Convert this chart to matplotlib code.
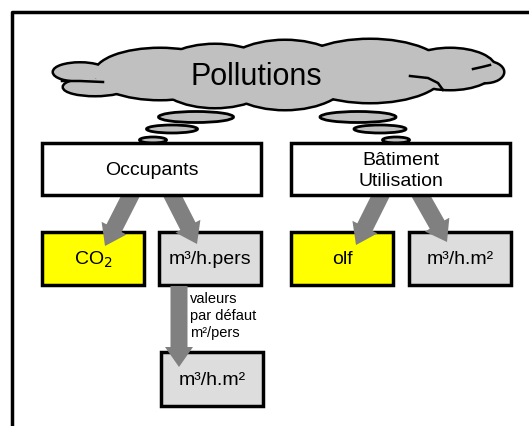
import matplotlib
matplotlib.use('Agg')
import matplotlib.pyplot as plt
from matplotlib.patches import Rectangle, Ellipse

plt.rcParams['font.family'] = ['Liberation Sans', 'DejaVu Sans']

# diagram content
title = 'Pollutions'
source_labels = ['Occupants', 'Bâtiment\nUtilisation']
source_x = [42, 291]
target_labels = ['CO$_2$', 'm³/h.pers', 'olf', 'm³/h.m²']
target_x = [42, 159, 291, 409]
target_colors = ['#ffff00', '#dddddd', '#ffff00', '#dddddd']
derived_label = 'm³/h.m²'
note = 'valeurs\npar défaut\nm²/pers'

gray_arrow = '#808080'
cloud_gray = '#c0c0c0'

fig = plt.figure(figsize=(5.29, 4.27), dpi=100)
ax = fig.add_axes([0, 0, 1, 1])
ax.set_xlim(0, 529)
ax.set_ylim(427, 0)
ax.axis('off')

# outer frame (runs off the right and bottom edges)
ax.plot([12, 12, 540], [440, 13, 13], color='black', lw=2.5, zorder=1)

# cloud: union of ellipses, outline drawn first then fill on top
lobes = [(80, 73, 52, 17), (95, 88, 62, 16), (160, 75, 130, 50),
         (215, 77, 120, 62), (285, 76, 130, 68), (370, 72, 150, 62),
         (450, 70, 90, 40), (485, 73, 36, 20)]
for cx, cy, w, h in lobes:
    ax.add_patch(Ellipse((cx, cy), w, h, facecolor='none', edgecolor='black', lw=3.6, zorder=2))
for cx, cy, w, h in lobes:
    ax.add_patch(Ellipse((cx, cy), w, h, facecolor=cloud_gray, edgecolor='none', zorder=3))
inner = [([62, 80, 103], [82, 82, 83]), ([473, 482, 490], [70, 68, 66]),
         ([410, 428, 438, 443], [77, 79, 84, 91])]
for xs, ys in inner:
    ax.plot(xs, ys, color='black', lw=1.8, zorder=4)
ax.text(256, 77, title, fontsize=22, ha='center', va='center', zorder=5)

# thought bubbles
bubbles = [(196, 118, 75, 11), (172, 130, 51, 8), (153, 141, 27, 6),
           (358, 118, 76, 11), (380, 130, 52, 8), (396, 141, 27, 6)]
for cx, cy, w, h in bubbles:
    ax.add_patch(Ellipse((cx, cy), w, h, facecolor=cloud_gray, edgecolor='black', lw=2, zorder=4))

# source boxes
for lab, x in zip(source_labels, source_x):
    ax.add_patch(Rectangle((x, 144), 219, 52, facecolor='white', edgecolor='black', lw=2.5, zorder=8))
    ax.text(x + 109.5, 171, lab, fontsize=14, ha='center', va='center',
            linespacing=1.25, zorder=9)

# target boxes
for lab, x, c in zip(target_labels, target_x, target_colors):
    ax.add_patch(Rectangle((x, 233), 102, 53, facecolor=c, edgecolor='black', lw=2.5, zorder=5))
    ax.text(x + 51, 260, lab, fontsize=14, ha='center', va='center', zorder=6)

# derived box
ax.add_patch(Rectangle((161, 353), 102, 54, facecolor='#dddddd', edgecolor='black', lw=2.5, zorder=5))
ax.text(212, 381, derived_label, fontsize=14, ha='center', va='center', zorder=6)

# arrows (under the source boxes, over the targets)
arrows = [(134, 190, 105, 247), (169, 190, 197, 245),
          (384, 190, 356, 246), (417, 190, 447, 243),
          (179, 287, 179, 368)]
for x0, y0, x1, y1 in arrows:
    ax.arrow(x0, y0, x1 - x0, y1 - y0, width=17, head_width=28, head_length=20,
             length_includes_head=True, color=gray_arrow, lw=0, zorder=7)

ax.text(190, 316, note, fontsize=10.5, ha='left', va='center', linespacing=1.3, zorder=7)

fig.savefig('out.png', dpi=100)
